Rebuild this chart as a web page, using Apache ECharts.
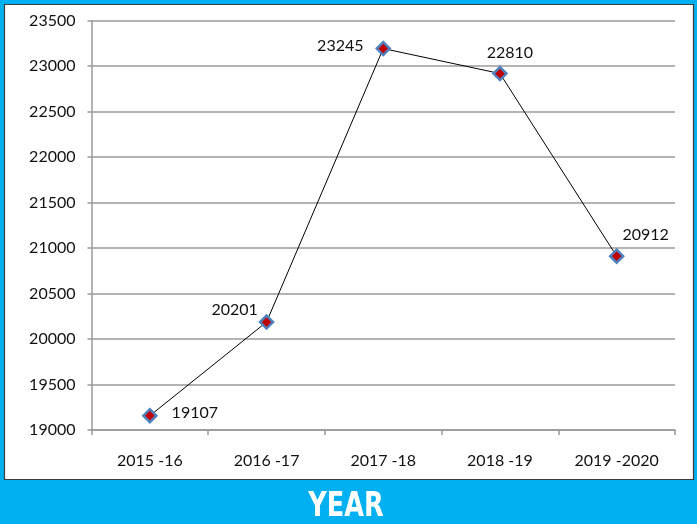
<!DOCTYPE html>
<html>
<head>
<meta charset="utf-8">
<script src="https://cdn.jsdelivr.net/npm/echarts@6/dist/echarts.min.js"></script>
<style>html,body{margin:0;padding:0;}#c{width:697px;height:524px;}</style>
</head>
<body>
<div id="c"></div>
<script>
const categories = ['2015 -16', '2016 -17', '2017 -18', '2018 -19', '2019 -2020'];
const values = [19157, 20187, 23194, 22919, 20911];
const labelTexts = ['19107', '20201', '23245', '22810', '20912'];
const yTicks = { min: 19000, max: 23500, interval: 500 };
const axisTitle = 'YEAR';

const labelPlacement = [
  { position: 'right', distance: 14, offset: [0, -3] },
  { position: 'left', distance: 1, offset: [0, -12] },
  { position: 'left', distance: 12, offset: [0, -3] },
  { position: 'top', distance: 5, offset: [10, 0] },
  { position: 'top', distance: 6, offset: [29, 0] }
];

const chart = echarts.init(document.getElementById('c'));
chart.setOption({
  backgroundColor: '#00B0F0',
  animation: false,
  graphic: [{
    type: 'rect', z: -10,
    shape: { x: 4.5, y: 4.5, width: 689, height: 475 },
    style: { fill: '#ffffff', stroke: '#3c3c3c', lineWidth: 1.2 }
  }, {
    type: 'text', z: 10,
    x: 346, y: 507, scaleX: 0.86,
    style: {
      text: axisTitle, fill: '#ffffff',
      font: "bold 33px 'DejaVu Sans Condensed', 'DejaVu Sans', sans-serif",
      align: 'center', verticalAlign: 'middle'
    }
  }],
  grid: { left: 91.5, right: 22, top: 20.7, bottom: 94, containLabel: false, outerBoundsMode: 'none' },
  xAxis: {
    type: 'category',
    data: categories,
    boundaryGap: true,
    axisLine: { lineStyle: { color: '#999999', width: 1.5 } },
    axisTick: { show: true, length: 5, alignWithLabel: false, lineStyle: { color: '#999999', width: 1.5 } },
    axisLabel: { color: '#111111', fontFamily: 'Lato', fontSize: 16, margin: 23 },
    splitLine: { show: false }
  },
  yAxis: {
    type: 'value',
    min: yTicks.min, max: yTicks.max, interval: yTicks.interval,
    axisLine: { show: true, lineStyle: { color: '#999999', width: 1.5 } },
    axisTick: { show: true, length: 4, lineStyle: { color: '#999999', width: 1.5 } },
    axisLabel: { color: '#111111', fontFamily: 'Lato', fontSize: 16, margin: 16, formatter: v => String(v) },
    splitLine: { show: true, lineStyle: { color: '#9a9a9a', width: 1.5 } }
  },
  series: [{
    type: 'line',
    data: values.map((v, i) => ({
      value: v,
      label: Object.assign({ show: true }, labelPlacement[i])
    })),
    symbol: 'diamond',
    symbolSize: 13,
    lineStyle: { color: '#000000', width: 1 },
    itemStyle: { color: '#C00000', borderColor: '#4F81BD', borderWidth: 2.5 },
    label: {
      show: true,
      color: '#111111', fontFamily: 'Lato', fontSize: 16,
      formatter: p => labelTexts[p.dataIndex]
    },
    z: 5
  }]
});
</script>
</body>
</html>
